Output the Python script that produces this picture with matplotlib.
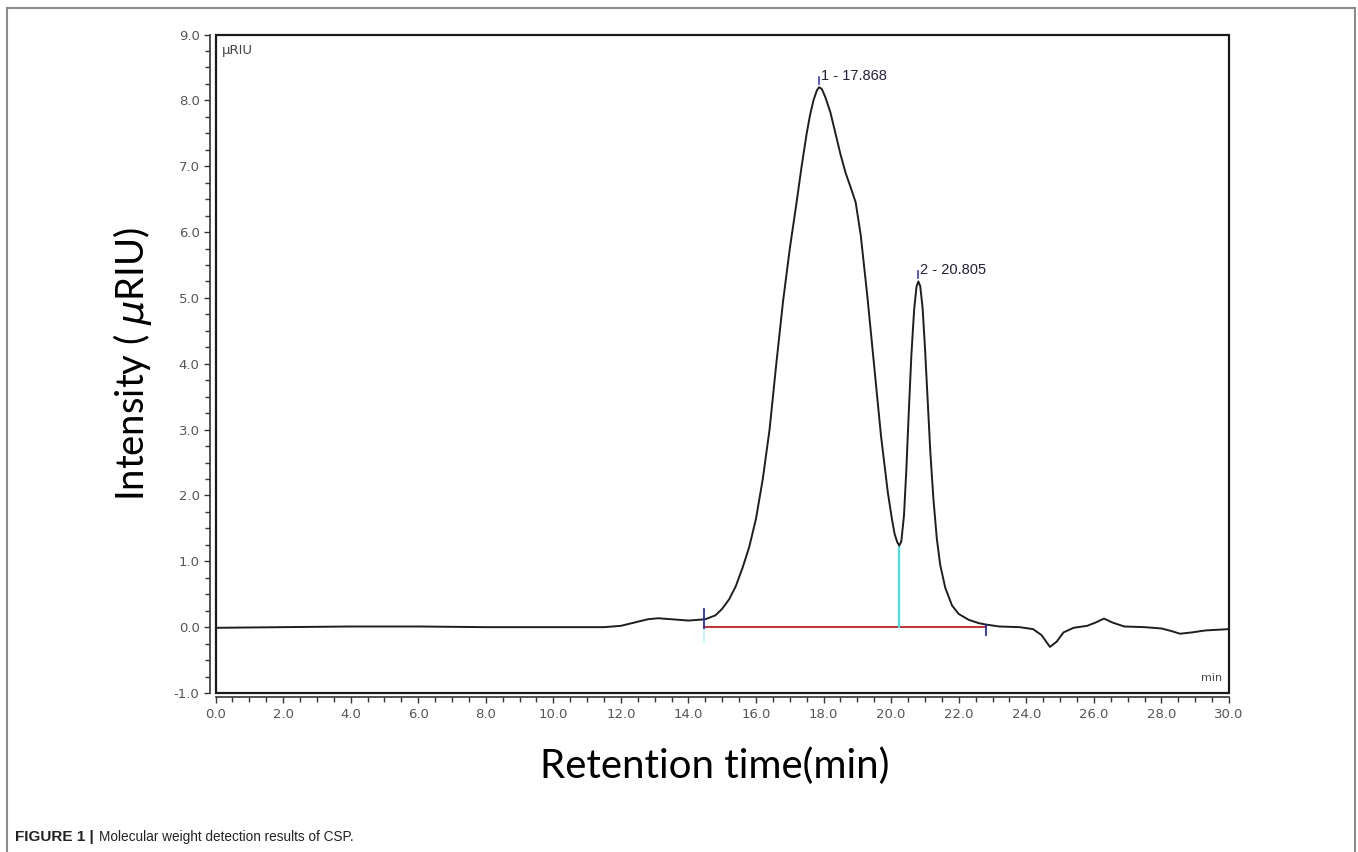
import numpy as np
import matplotlib
matplotlib.use("Agg")
import matplotlib.pyplot as plt
from matplotlib.patches import Rectangle
from matplotlib.lines import Line2D
from matplotlib.ticker import MultipleLocator, FormatStrFormatter

# ── Data ────────────────────────────────────────────────────────────────────────
time_min = [0.0, 2.0, 4.0, 6.0, 8.0, 10.0, 11.5, 12.0, 12.4, 12.8, 13.1, 13.5, 14.0,
            14.5, 14.8, 15.0, 15.2, 15.4, 15.6, 15.8, 16.0, 16.2, 16.4, 16.6, 16.8,
            17.0, 17.2, 17.35, 17.5, 17.6, 17.7, 17.8, 17.868, 17.95, 18.05, 18.2,
            18.35, 18.5, 18.65, 18.8, 18.95, 19.1, 19.3, 19.5, 19.7, 19.9, 20.02,
            20.1, 20.18, 20.24, 20.3, 20.38, 20.45, 20.52, 20.6, 20.68, 20.75, 20.805,
            20.86, 20.93, 21.0, 21.08, 21.16, 21.25, 21.35, 21.45, 21.6, 21.8, 22.0,
            22.3, 22.6, 22.8, 23.2, 23.8, 24.2, 24.45, 24.7, 24.9, 25.1, 25.4, 25.8,
            26.05, 26.3, 26.55, 26.9, 27.5, 28.0, 28.3, 28.55, 28.9, 29.3, 30.0]
intensity = [-0.01, 0.0, 0.01, 0.01, 0.0, 0.0, 0.0, 0.02, 0.07, 0.12, 0.135, 0.12, 0.10,
             0.12, 0.18, 0.28, 0.42, 0.62, 0.90, 1.22, 1.65, 2.25, 3.0, 4.0, 4.95,
             5.75, 6.45, 7.0, 7.5, 7.78, 8.0, 8.15, 8.2, 8.17, 8.05, 7.82,
             7.5, 7.18, 6.9, 6.68, 6.45, 5.95, 5.0, 3.95, 2.9, 2.05, 1.65,
             1.42, 1.29, 1.24, 1.3, 1.7, 2.4, 3.25, 4.15, 4.82, 5.17, 5.25,
             5.18, 4.85, 4.25, 3.45, 2.65, 1.95, 1.35, 0.95, 0.6, 0.33, 0.2,
             0.11, 0.06, 0.04, 0.01, 0.0, -0.03, -0.12, -0.30, -0.22, -0.08, -0.01, 0.02,
             0.07, 0.13, 0.07, 0.01, 0.0, -0.02, -0.06, -0.10, -0.08, -0.05, -0.03]

peak_times = [17.868, 20.805]
peak_heights = [8.2, 5.25]
peak_labels = ["1 - 17.868", "2 - 20.805"]

base_start, base_end = 14.47, 22.82
valley_time, valley_height = 20.24, 1.24

# ── Figure ──────────────────────────────────────────────────────────────────────
W, H = 1358, 852
fig = plt.figure(figsize=(W / 100, H / 100), dpi=100)
fig.patch.set_facecolor("white")

ax = fig.add_axes([215.5 / W, 1 - 693 / H, (1229 - 215.5) / W, (693 - 34.5) / H])
ax.plot(time_min, intensity, color="#1e1e1e", lw=1.4, zorder=3)

# integration baseline + markers
ax.plot([base_start, base_end], [0.0, 0.0], color="#c0393b", lw=1.5, zorder=2)
ax.plot([valley_time, valley_time], [0.0, valley_height], color="#3fe0ea", lw=1.5, zorder=2)
ax.plot([base_start, base_start], [-0.02, 0.27], color="#2b2bb0", lw=1.3, zorder=4)
ax.plot([base_start, base_start], [-0.02, -0.22], color="#bff3f7", lw=1.3, zorder=1)
ax.plot([base_end, base_end], [0.03, -0.12], color="#2b2bb0", lw=1.3, zorder=4)
for t, h, lab in zip(peak_times, peak_heights, peak_labels):
    ax.plot([t, t], [h + 0.05, h + 0.16], color="#3a3ac0", lw=1.2, zorder=4)
    ax.text(t + 0.06, h + 0.07, lab, fontsize=10.5, color="#20203a", ha="left",
            va="bottom", family=["Liberation Sans", "DejaVu Sans"])

ax.set_xlim(0, 30)
ax.set_ylim(-1, 9)

# frame plus offset axis lines
for s in ["top", "right"]:
    ax.spines[s].set_visible(False)
ax.spines["left"].set_position(("outward", 4))
ax.spines["bottom"].set_position(("outward", 3))
for s in ["left", "bottom"]:
    ax.spines[s].set_color("#333333")
    ax.spines[s].set_linewidth(1.2)
ax.add_patch(Rectangle((0, 0), 1, 1, transform=ax.transAxes, fill=False,
                       edgecolor="#1a1a1a", lw=1.6, clip_on=False, zorder=5))

ax.xaxis.set_major_locator(MultipleLocator(2.0))
ax.xaxis.set_minor_locator(MultipleLocator(0.5))
ax.yaxis.set_major_locator(MultipleLocator(1.0))
ax.yaxis.set_minor_locator(MultipleLocator(0.25))
ax.xaxis.set_major_formatter(FormatStrFormatter("%.1f"))
ax.yaxis.set_major_formatter(FormatStrFormatter("%.1f"))
ax.tick_params(which="both", direction="out", color="#333333", width=1.0)
ax.tick_params(which="major", length=4.5, labelsize=9.5, labelcolor="#555555", pad=3)
ax.tick_params(which="minor", length=3.5)

ax.text(0.006, 0.985, "μRIU", transform=ax.transAxes, fontsize=9.5, color="#444444",
        ha="left", va="top")
ax.text(0.993, 0.015, "min", transform=ax.transAxes, fontsize=8, color="#444444",
        ha="right", va="bottom")

ax.set_xlabel("Retention time(min)", fontsize=29, family="Lato", labelpad=16)
ax.xaxis.set_label_coords((715 - 215.5) / (1229 - 215.5), -0.082)
ax.set_ylabel("Intensity ( $\\mu$RIU)", fontsize=27.5, family="Lato", labelpad=14)

# outer figure border (left, top, right)
bc = "#8c8c8c"
fig.add_artist(Line2D([7 / W, 7 / W], [0, 1 - 8 / H], color=bc, lw=1.5))
fig.add_artist(Line2D([7 / W, 1355 / W], [1 - 8 / H, 1 - 8 / H], color=bc, lw=1.5))
fig.add_artist(Line2D([1355 / W, 1355 / W], [0, 1 - 8 / H], color=bc, lw=1.5))

# caption
narrow = ["Liberation Sans Narrow", "Liberation Sans", "DejaVu Sans"]
t1 = fig.text(15 / W, 1 - 837 / H, "FIGURE 1 |", fontsize=11, fontweight="bold",
              family=narrow, color="#222222", va="center")
fig.canvas.draw()
bb = t1.get_window_extent()
fig.text((bb.x1 + 5) / W, 1 - 837 / H, "Molecular weight detection results of CSP.",
         fontsize=9.8, family=narrow, color="#222222", va="center")

plt.savefig("out.png", dpi=100)
